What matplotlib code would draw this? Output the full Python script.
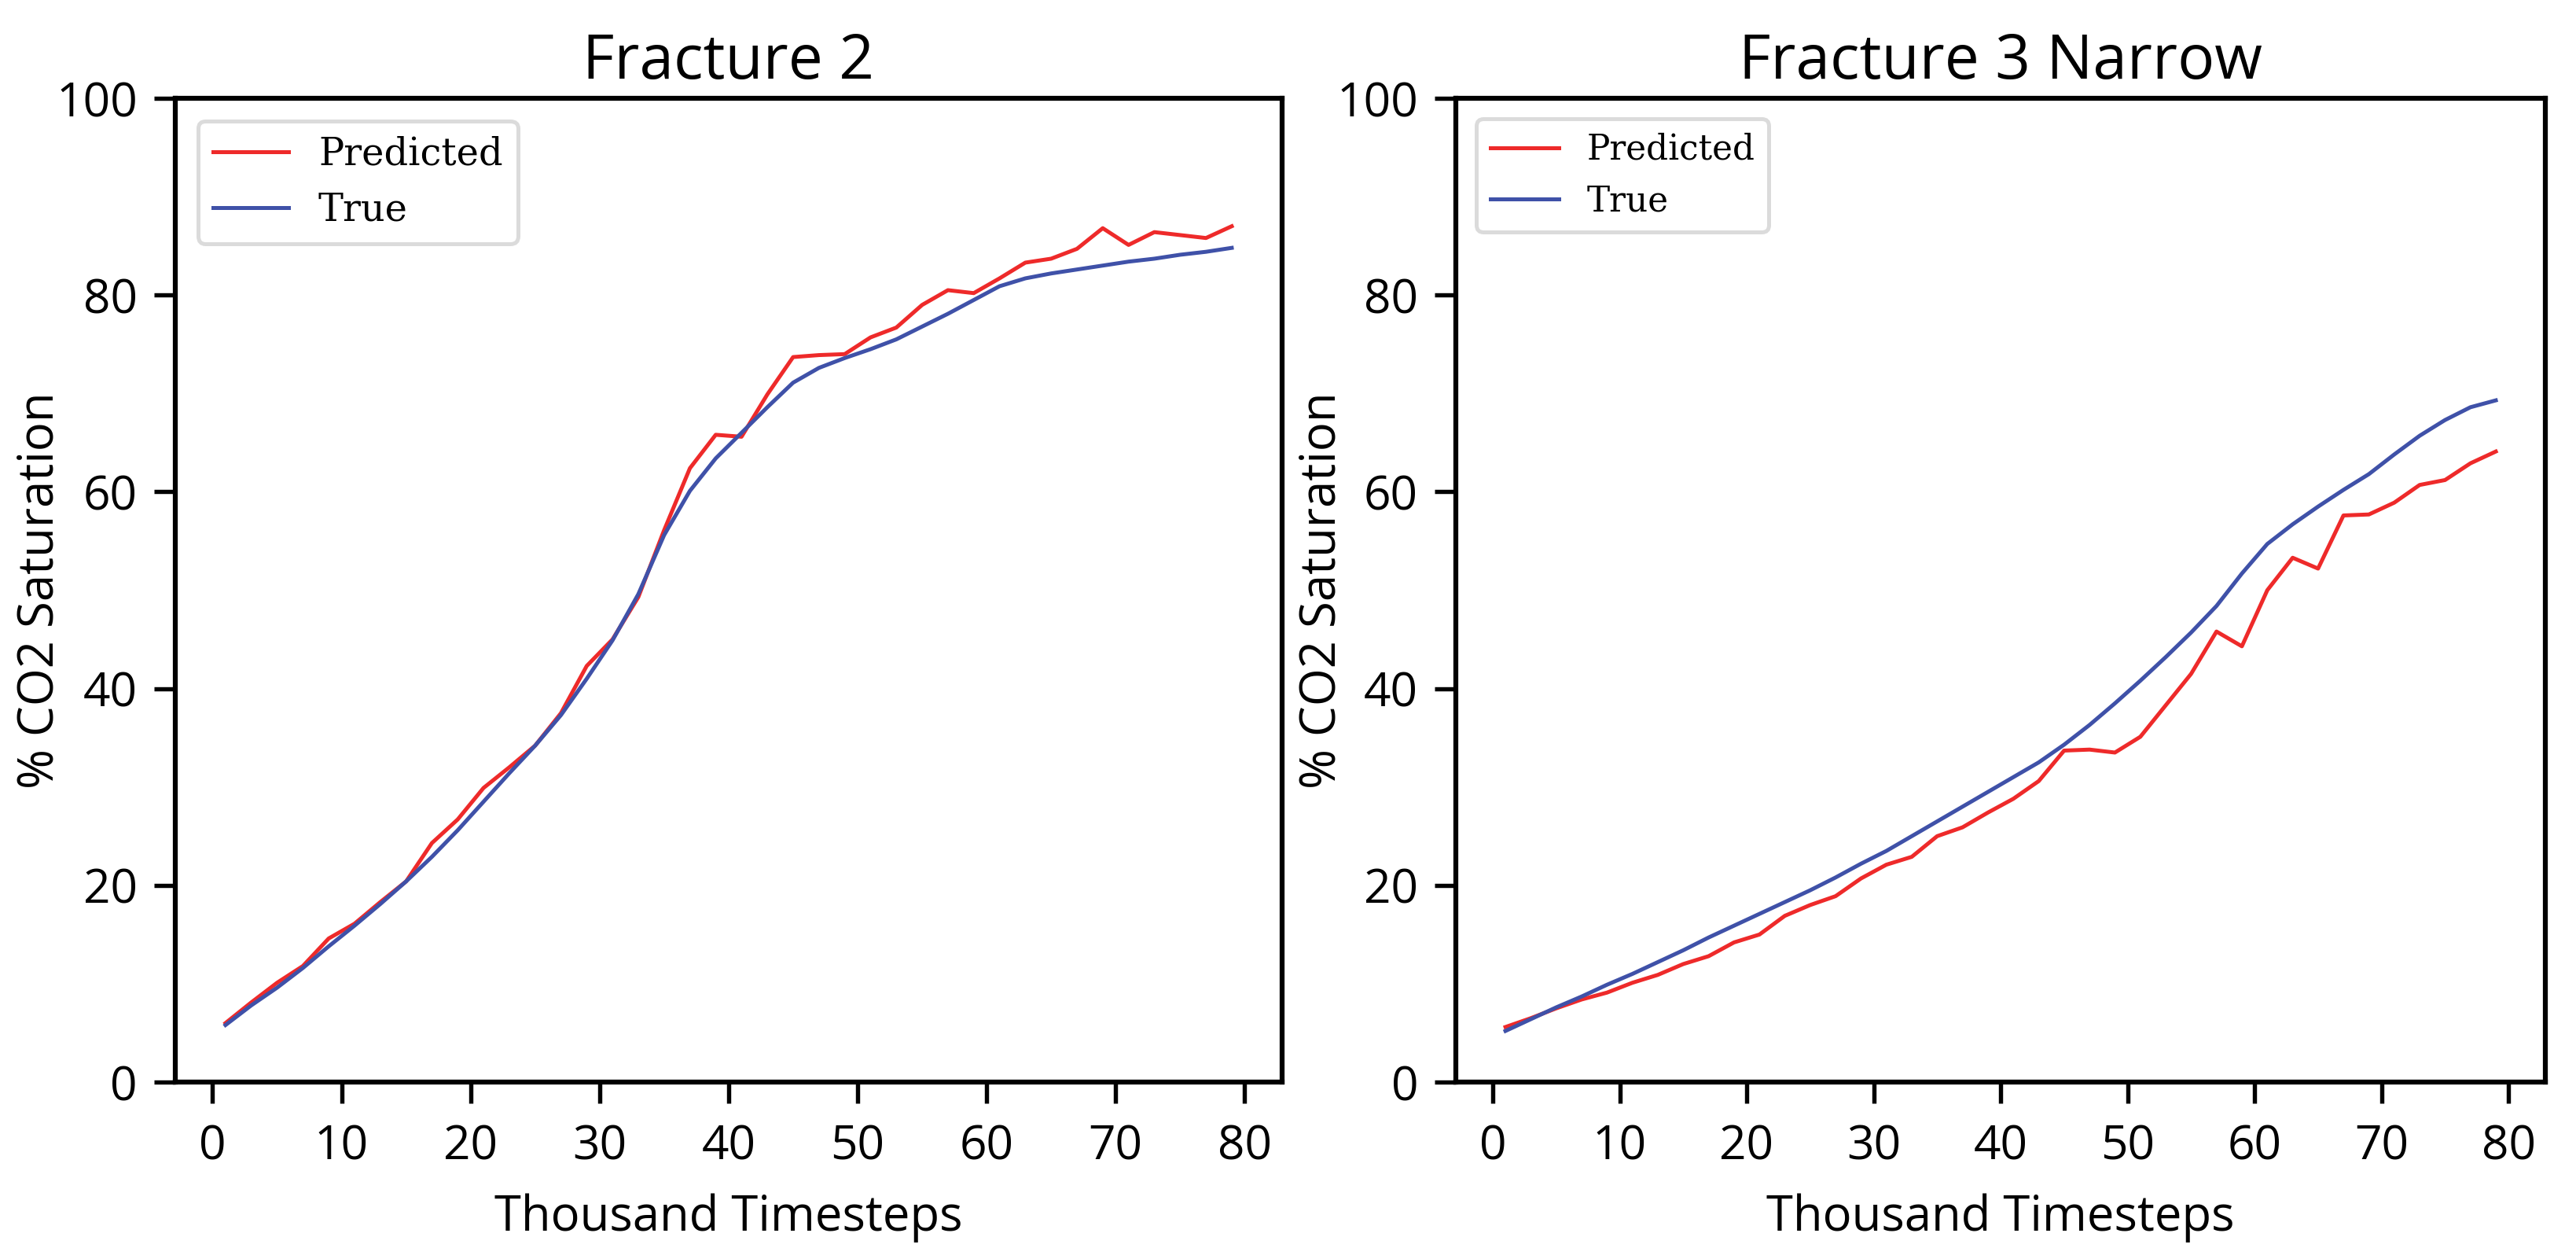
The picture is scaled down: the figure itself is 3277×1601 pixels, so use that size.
import numpy as np
import matplotlib
matplotlib.use("Agg")
import matplotlib.pyplot as plt

# thousand timesteps, sampled every 2k
steps = np.arange(1, 80, 2)

# Fracture 2
frac2_pred = [6.0, 8.1, 10.1, 11.8, 14.6, 16.1, 18.3, 20.4, 24.3, 26.7,
              29.9, 32.0, 34.2, 37.5, 42.3, 45.0, 49.3, 56.1, 62.4, 65.8,
              65.6, 69.9, 73.7, 73.9, 74.0, 75.7, 76.7, 79.0, 80.5, 80.2,
              81.7, 83.3, 83.7, 84.7, 86.8, 85.1, 86.4, 86.1, 85.8, 87.0]
frac2_true = [5.8, 7.8, 9.6, 11.6, 13.8, 15.9, 18.1, 20.4, 22.9, 25.6,
              28.5, 31.4, 34.2, 37.3, 41.0, 44.9, 49.6, 55.6, 60.1, 63.4,
              66.0, 68.6, 71.1, 72.6, 73.6, 74.5, 75.5, 76.8, 78.1, 79.5,
              80.9, 81.7, 82.2, 82.6, 83.0, 83.4, 83.7, 84.1, 84.4, 84.8]

# Fracture 3 Narrow
frac3_pred = [5.6, 6.5, 7.5, 8.4, 9.1, 10.1, 10.9, 12.0, 12.8, 14.2,
              15.0, 16.9, 18.0, 18.9, 20.7, 22.1, 22.9, 25.0, 25.9, 27.4,
              28.8, 30.6, 33.7, 33.8, 33.5, 35.1, 38.3, 41.5, 45.8, 44.3,
              50.0, 53.3, 52.2, 57.6, 57.7, 58.9, 60.7, 61.2, 62.9, 64.1]
frac3_true = [5.2, 6.4, 7.6, 8.7, 9.9, 11.0, 12.2, 13.4, 14.7, 15.9,
              17.1, 18.3, 19.5, 20.8, 22.2, 23.5, 25.0, 26.5, 28.0, 29.5,
              31.0, 32.5, 34.3, 36.3, 38.5, 40.8, 43.2, 45.7, 48.4, 51.7,
              54.7, 56.7, 58.5, 60.2, 61.8, 63.8, 65.7, 67.3, 68.6, 69.3]

titles = ["Fracture 2", "Fracture 3 Narrow"]
yticks = [0, 20, 40, 60, 80, 100]
xticks = [0, 10, 20, 30, 40, 50, 60, 70, 80]

RED = '#ee2a2a'
BLUE = '#3f51a8'

plt.rcParams['font.family'] = ['Open Sans', 'DejaVu Sans']

fig = plt.figure(figsize=(3277 / 300, 1601 / 300), dpi=300)
ax1 = fig.add_axes([0.0680, 0.1405, 0.4297, 0.7814])
ax2 = fig.add_axes([0.5652, 0.1405, 0.4229, 0.7814])

# left legend came out a bit larger than the right one in the original
panels = [(ax1, frac2_pred, frac2_true, 11.5), (ax2, frac3_pred, frac3_true, 10.5)]
for i, (ax, pred, true, lfs) in enumerate(panels):
    ax.plot(steps, pred, color=RED, lw=1.2, label='Predicted')
    ax.plot(steps, true, color=BLUE, lw=1.2, label='True')
    ax.set_ylim(0, 100)
    ax.set_yticks(yticks)
    ax.set_xticks(xticks)
    ax.set_title(titles[i], fontsize=18.8, pad=6)
    ax.set_xlabel('Thousand Timesteps', fontsize=14.8, labelpad=7)
    ax.set_ylabel('% CO2 Saturation', fontsize=14.8)
    ax.yaxis.set_label_coords(-0.100, 0.5)
    for sp in ax.spines.values():
        sp.set_linewidth(1.5)
    ax.tick_params(axis='both', labelsize=14.5, length=6.5, width=1.3)
    ax.tick_params(axis='x', pad=6)
    ax.tick_params(axis='y', pad=5)
    leg = ax.legend(loc='upper left', prop={'family': 'DejaVu Serif', 'size': lfs},
                    frameon=True, fancybox=True, handlelength=2.0, borderaxespad=0.6)
    leg.get_frame().set_edgecolor('#d3d3d3')
    leg.get_frame().set_linewidth(1.2)

fig.savefig('out.png', dpi=300)
